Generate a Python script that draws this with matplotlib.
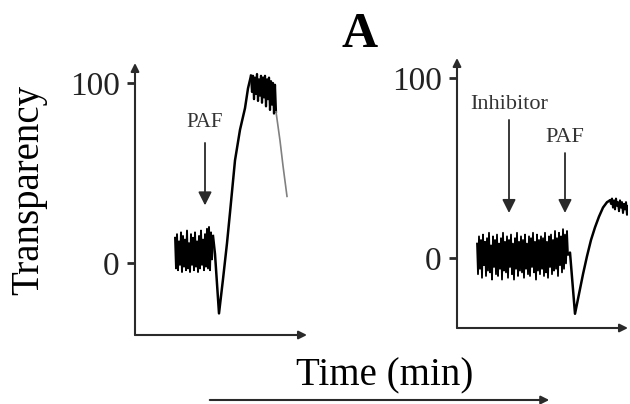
import matplotlib
matplotlib.use('Agg')
import matplotlib.pyplot as plt
import numpy as np

plt.rcParams['font.family'] = ['Liberation Serif', 'DejaVu Serif']

# ---- data (time in arbitrary units, transparency in %) ----
# control panel: baseline noise, then PAF response
ctrl_noise_t0 = 40
ctrl_noise = [14, -3, 16, -4, 12, -1, 17, -5, 15, -2, 13, -4, 18, -3, 11, -5, 16, -1, 14, -4,
              17, -2, 12, -5, 15, -3, 18, -1, 13, -4, 16, -2, 19, -3, 20, -4, 17, 2, 15]
ctrl_rise_t = [80, 84, 88, 92, 95, 100, 105, 110, 113, 116]
ctrl_rise_y = [5, -28, -9, 11, 28, 57, 74, 86, 97, 104]
ctrl_peak_t0 = 117
ctrl_peak = [95, 104, 91, 103, 94, 105, 90, 102, 93, 104, 89, 103, 92, 104, 87, 102, 91, 103, 85, 101,
             88, 100, 83, 99, 84]
ctrl_decay_t = [141, 143, 145, 148, 152]
ctrl_decay_y = [84, 76, 68, 54, 37]

# inhibitor panel
inh_noise_t0 = 20
inh_noise = [8, -9, 12, -6, 10, -11, 13, -4, 9, -10, 11, -7, 14, -8, 7, -12, 12, -5, 10, -9,
             13, -10, 8, -6, 11, -12, 14, -7, 9, -8, 12, -11, 10, -5, 13, -9, 8, -12, 11, -6,
             14, -10, 9, -7, 12, -8, 10, -11, 13, -6, 8, -9, 12, -10, 11, -5, 14, -8, 9, -12,
             13, -7, 10, -9, 12, -6, 11, -10, 14, -8, 9, -11, 12, -5, 13, -9, 10, -7, 15, -6,
             11, -10, 14, -4, 12, -8, 16, -6, 13, -3, 15, 2]
inh_rise_t = [113, 118, 122, 126, 130, 134, 138, 142, 146, 150, 153]
inh_rise_y = [3, -31, -20, -9, 1, 10, 17, 23, 28, 31, 32]
inh_plateau_t0 = 154
inh_plateau = [30, 33, 28, 32, 27, 33, 29, 31, 26, 32, 28, 31, 25, 30, 27, 31, 24, 29, 26, 28]

# event markers: (label, time, arrow start, arrow tip, label y, fontsize)
ctrl_events = [('PAF', 70, 66.7, 32, 78, 15)]
inh_events = [('Inhibitor', 52, 76.7, 25, 85.5, 16),
              ('PAF', 108, 58.3, 25, 67, 16)]

ink = '#2a2a2a'
W, H = 630, 404

fig = plt.figure(figsize=(6.3, 4.04), dpi=100)


def px_axes(x0, x1, y_top, y_bot):
    return fig.add_axes([x0 / W, 1 - y_bot / H, (x1 - x0) / W, (y_bot - y_top) / H])


def style_axes(ax):
    for s in ax.spines.values():
        s.set_visible(False)
    arrow = dict(arrowstyle='-|>', color=ink, lw=1.5, mutation_scale=12, shrinkA=0, shrinkB=0)
    ax.annotate('', xy=(0, 1), xytext=(0, 0), xycoords='axes fraction', arrowprops=arrow)
    ax.annotate('', xy=(1, 0), xytext=(0, 0), xycoords='axes fraction', arrowprops=arrow)
    ax.set_xticks([])
    ax.set_yticks([0, 100])
    ax.set_yticklabels(['0', '100'])
    ax.tick_params(axis='y', length=6, width=2, color=ink, pad=5, labelsize=24, labelcolor='#222')
    ax.patch.set_visible(False)


def draw_events(ax, events):
    for label, t, y0, y1, ly, fs in events:
        ax.annotate('', xy=(t, y1), xytext=(t, y0),
                    arrowprops=dict(arrowstyle='-|>', color=ink, lw=1.3, mutation_scale=20,
                                    shrinkA=0, shrinkB=0))
        ax.text(t, ly, label, ha='center', va='center', fontsize=fs, color='#333')


ax1 = px_axes(135, 307, 63, 335)
ax1.set_xlim(0, 172)
ax1.set_ylim(-40, 111.1)
style_axes(ax1)

t = ctrl_noise_t0 + np.arange(len(ctrl_noise))
ax1.plot(t, ctrl_noise, color='black', lw=1.4)
ax1.plot([t[-1]] + ctrl_rise_t, [ctrl_noise[-1]] + ctrl_rise_y, color='black', lw=1.8)
tp = ctrl_peak_t0 + np.arange(len(ctrl_peak))
ax1.plot([ctrl_rise_t[-1]] + list(tp), [ctrl_rise_y[-1]] + ctrl_peak, color='black', lw=1.6)
ax1.plot([tp[-1]] + ctrl_decay_t, [ctrl_peak[-1]] + ctrl_decay_y, color='#808080', lw=1.2)
draw_events(ax1, ctrl_events)

ax2 = px_axes(457, 628, 58, 328)
ax2.set_xlim(0, 171)
ax2.set_ylim(-38.9, 111.1)
style_axes(ax2)

t = inh_noise_t0 + np.arange(len(inh_noise))
ax2.plot(t, inh_noise, color='black', lw=1.3)
ax2.plot([t[-1]] + inh_rise_t, [inh_noise[-1]] + inh_rise_y, color='black', lw=1.8)
tp = inh_plateau_t0 + np.arange(len(inh_plateau))
ax2.plot([inh_rise_t[-1]] + list(tp), [inh_rise_y[-1]] + inh_plateau, color='black', lw=1.5)
draw_events(ax2, inh_events)

# shared labels
fig.text(360 / W, 1 - 47 / H, 'A', ha='center', va='baseline', fontsize=36, fontweight='bold')
fig.text(29 / W, 1 - 190 / H, 'Transparency', rotation=90, ha='center', va='center', fontsize=28)
fig.text(385 / W, 1 - 385 / H, 'Time (min)', ha='center', va='baseline', fontsize=28)
fig.patches.append(matplotlib.patches.FancyArrowPatch(
    (207 / W, 1 - 400 / H), (552 / W, 1 - 400 / H), transform=fig.transFigure,
    arrowstyle='-|>', mutation_scale=12, color=ink, lw=1.5))

fig.savefig('out.png', dpi=100)
